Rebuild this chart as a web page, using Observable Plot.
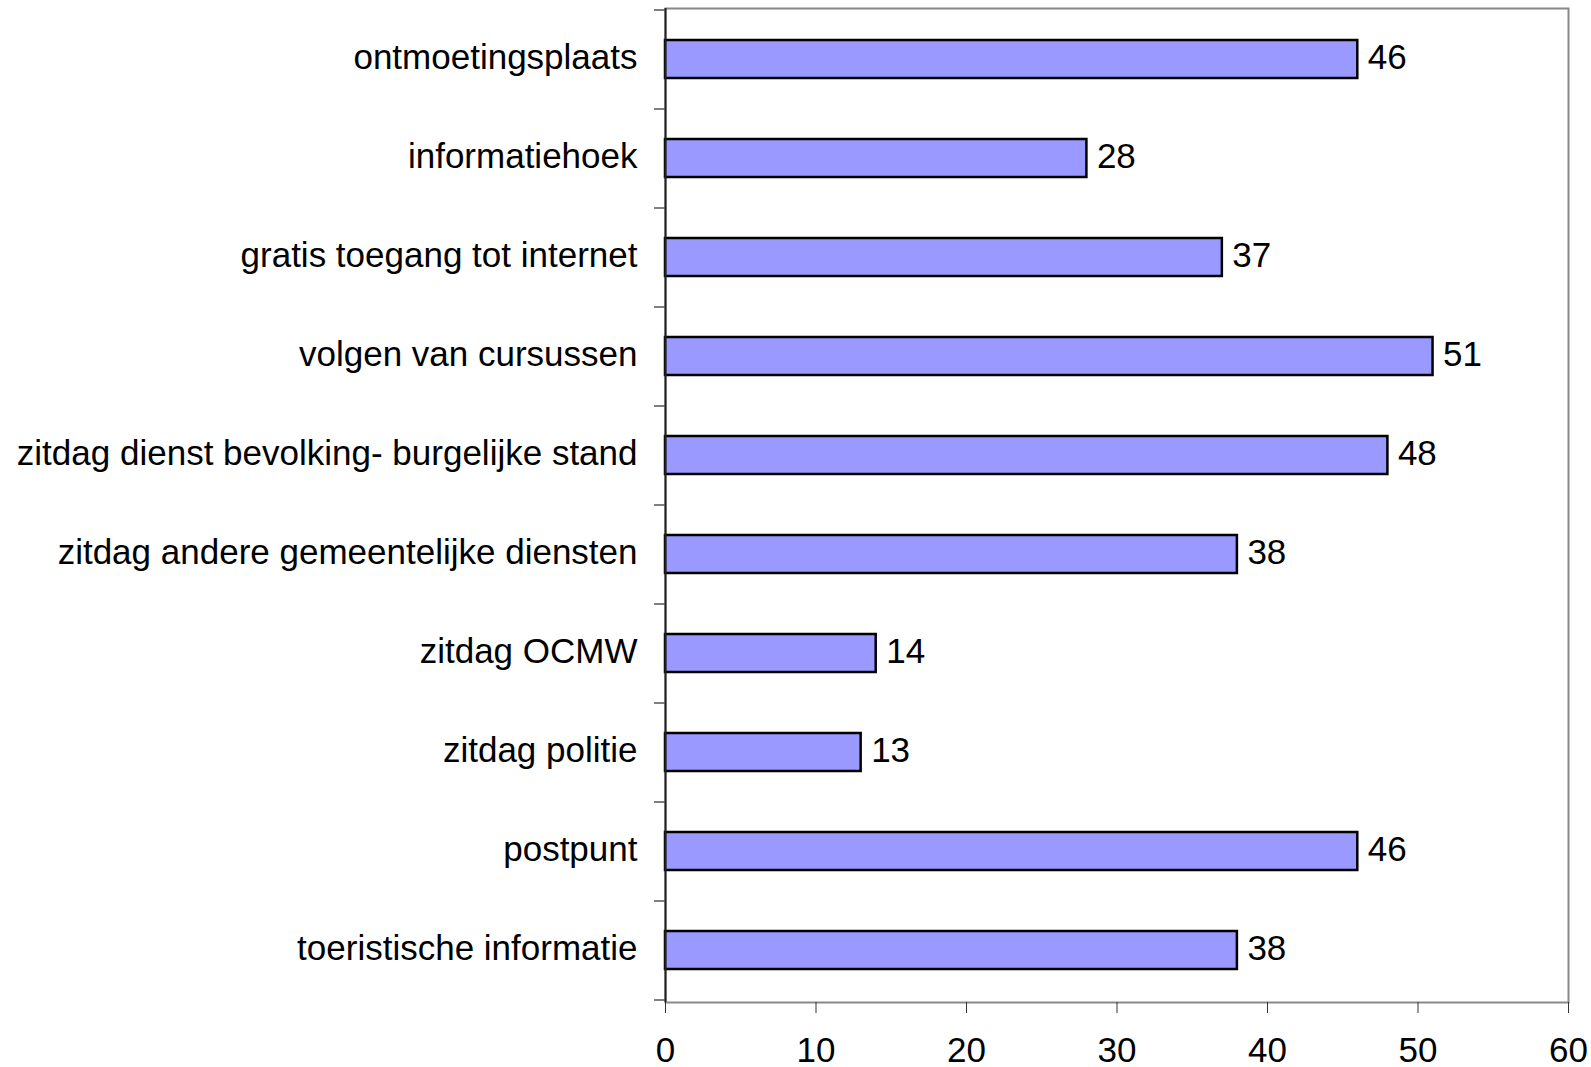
<!DOCTYPE html>
<html>
<head>
<meta charset="utf-8">
<script src="https://cdn.jsdelivr.net/npm/d3@7"></script>
<script src="https://cdn.jsdelivr.net/npm/@observablehq/plot@0.6"></script>
<style>
  html, body { margin: 0; padding: 0; background: #fff; }
</style>
</head>
<body>
<div id="chart"></div>
<script>
const categories = [
  "ontmoetingsplaats",
  "informatiehoek",
  "gratis toegang tot internet",
  "volgen van cursussen",
  "zitdag dienst bevolking- burgelijke stand",
  "zitdag andere gemeentelijke diensten",
  "zitdag OCMW",
  "zitdag politie",
  "postpunt",
  "toeristische informatie"
];
const values = [46, 28, 37, 51, 48, 38, 14, 13, 46, 38];
const xTicks = [0, 10, 20, 30, 40, 50, 60];

const data = categories.map((c, i) => ({cat: c, value: values[i]}));

const boundaryTicks = (index, scales, vals, dimensions) => {
  const g = d3.create("svg:g");
  const y = scales.y;
  const ys = categories.map(c => y(c));
  const bw = y.bandwidth ? y.bandwidth() : (dimensions.height - dimensions.marginTop - dimensions.marginBottom) / categories.length;
  ys.push(ys[ys.length - 1] + bw);
  const x0 = scales.x(0);
  g.selectAll("line").data(ys).join("line")
    .attr("x1", x0 - 11).attr("x2", x0)
    .attr("y1", d => d).attr("y2", d => d)
    .attr("stroke", "#555").attr("stroke-width", 1.5);
  return g.node();
};

const chart = Plot.plot({
  width: 1591,
  height: 1067,
  marginLeft: 665,
  marginRight: 23,
  marginTop: 8,
  marginBottom: 65,
  style: {fontFamily: "'Liberation Sans', Arial, sans-serif", fontSize: "35px", color: "#000", background: "#fff"},
  x: {domain: [0, 60], ticks: xTicks, label: null},
  y: {domain: categories, padding: 0, label: null},
  marks: [
    Plot.frame({stroke: "#888", strokeWidth: 2}),
    Plot.barX(data, {x: "value", y: "cat", fill: "#9999ff", stroke: "#000", strokeWidth: 2.5, insetTop: 30, insetBottom: 31}),
    Plot.text(data, {x: "value", y: "cat", text: d => String(d.value), textAnchor: "start", dx: 10, dy: -2, fontSize: 35, fill: "#000"}),
    Plot.ruleX([0], {stroke: "#222", strokeWidth: 2}),
    Plot.axisX({ticks: xTicks, tickSize: 11, tickPadding: 24, fontSize: 35, stroke: "#333", label: null}),
    Plot.axisY({tickSize: 0, tickPadding: 28, fontSize: 35, dy: -2, label: null}),
    boundaryTicks
  ]
});
document.getElementById("chart").appendChild(chart);
</script>
</body>
</html>
